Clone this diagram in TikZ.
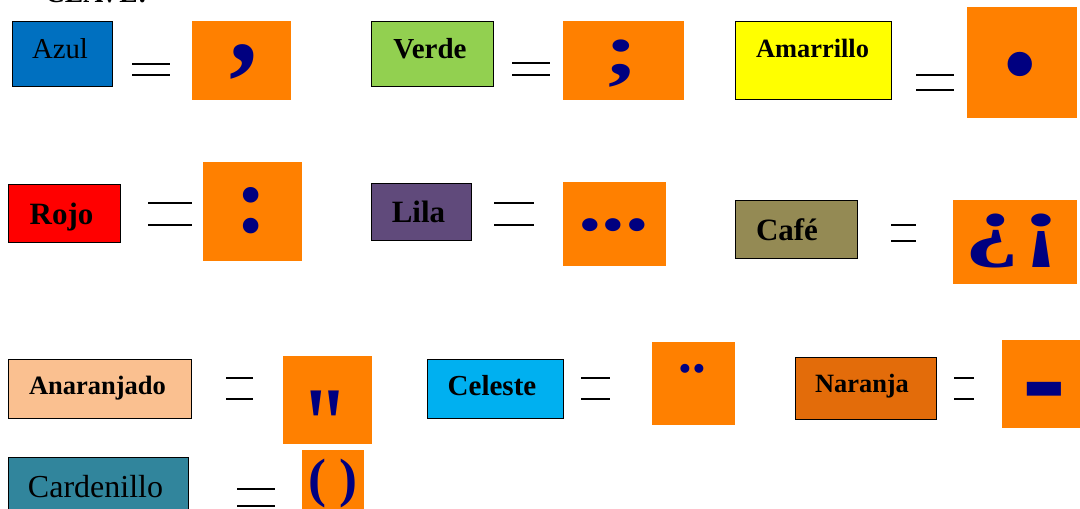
\documentclass[tikz,border=0pt]{standalone}
\usepackage{graphicx}
\usepackage{fontspec}
\setmainfont{Liberation Serif}
\newfontfamily\markfont{Liberation Serif}
\definecolor{cAzul}{HTML}{0070C0}
\definecolor{cVerde}{HTML}{92D050}
\definecolor{cAmar}{HTML}{FFFF00}
\definecolor{cRojo}{HTML}{FF0000}
\definecolor{cLila}{HTML}{604A7B}
\definecolor{cCafe}{HTML}{948A54}
\definecolor{cAnar}{HTML}{FAC090}
\definecolor{cCele}{HTML}{00B0F0}
\definecolor{cNara}{HTML}{E36C0A}
\definecolor{cCard}{HTML}{31859C}
\definecolor{cOrange}{HTML}{FF8000}
\definecolor{cNavy}{HTML}{000080}
\tikzset{
  colorbox/.style={draw=black,line width=0.9pt},
  signbox/.style={fill=cOrange},
  eqline/.style={draw=black,line width=1.6pt},
  label/.style={anchor=base,inner sep=0pt,text=black},
  glyphmark/.style={anchor=center,inner sep=0pt,text=cNavy}
}
\newcommand{\fs}[1]{\fontsize{#1}{#1}\selectfont}
\newcommand{\sign}[4]{\fill[signbox] (#1,#2) rectangle (#3,#4);}
\newcommand{\eq}[4]{\draw[eqline] (#1,#3) -- (#2,#3); \draw[eqline] (#1,#4) -- (#2,#4);}
% name, x, y, x-stretch, y-stretch, size, character
\newcommand{\mk}[7]{\node[glyphmark] (#1) at (#2,#3) {\scalebox{#4}[#5]{\fs{#6}\markfont\bfseries #7}};}
\begin{document}
\begin{tikzpicture}[x=1pt,y=-1pt]
\path[use as bounding box] (0,0) rectangle (1080,509);
\clip (0,0) rectangle (1080,509);
\node[label] (clave) at (96,2.5) {\fs{27.5}\bfseries CLAVE:};
% colour boxes
\fill[cAzul] (12,21) rectangle (112,86); \draw[colorbox] (12,21) rectangle (112,86);
\node[label] (azul) at (60,58) {\fs{28.8}Azul};
\fill[cVerde] (371,21) rectangle (493,86); \draw[colorbox] (371,21) rectangle (493,86);
\node[label] (verde) at (430,58) {\fs{29}\bfseries Verde};
\fill[cAmar] (735,21) rectangle (891,99); \draw[colorbox] (735,21) rectangle (891,99);
\node[label] (amar) at (812.5,57) {\fs{26.4}\bfseries Amarrillo};
\fill[cRojo] (8,184) rectangle (120,242); \draw[colorbox] (8,184) rectangle (120,242);
\node[label] (rojo) at (61.5,224) {\fs{31}\bfseries Rojo};
\fill[cLila] (371,183) rectangle (471,240); \draw[colorbox] (371,183) rectangle (471,240);
\node[label] (lila) at (418.5,222) {\fs{31}\bfseries Lila};
\fill[cCafe] (735,200) rectangle (857,258); \draw[colorbox] (735,200) rectangle (857,258);
\node[label] (cafe) at (787,240) {\fs{31}\bfseries Café};
\fill[cAnar] (8,359) rectangle (191,418); \draw[colorbox] (8,359) rectangle (191,418);
\node[label] (anar) at (97.5,394) {\fs{26.5}\bfseries Anaranjado};
\fill[cCele] (427,359) rectangle (563,418); \draw[colorbox] (427,359) rectangle (563,418);
\node[label] (cele) at (492,395) {\fs{29}\bfseries Celeste};
\fill[cNara] (795,357) rectangle (936,419); \draw[colorbox] (795,357) rectangle (936,419);
\node[label] (nara) at (862,392) {\fs{26.4}\bfseries Naranja};
\fill[cCard] (8,457) rectangle (188,515); \draw[colorbox] (8,457) rectangle (188,515);
\node[label] (card) at (95.5,497) {\fs{32}Cardenillo};
% equals signs
\eq{132}{170}{64}{75}
\eq{512}{550}{63}{75}
\eq{916}{954}{75}{90}
\eq{148}{192}{203}{225}
\eq{494}{534}{203}{225}
\eq{891}{916}{225}{241}
\eq{226}{253}{378}{399}
\eq{581}{610}{378}{399}
\eq{954}{974}{378}{399}
\begin{scope}[eqline/.append style={line width=2.4pt}]
\eq{237}{275}{489}{506}
\end{scope}
% orange cards
\sign{192}{21}{291}{100}
\sign{563}{21}{684}{100}
\sign{967}{7}{1077}{118}
\sign{203}{162}{302}{261}
\sign{563}{182}{666}{266}
\sign{953}{200}{1077}{284}
\sign{283}{356}{372}{444}
\sign{652}{342}{735}{425}
\sign{1002}{340}{1080}{428}
\sign{302}{450}{364}{509}
% punctuation marks
\mk{m1}{244}{62}{1}{1}{115}{,}
\mk{m2}{622}{64}{1.35}{1}{76}{;}
\mk{m3}{1020}{64}{1}{1}{150}{.}
\mk{m4}{251}{211}{1}{1}{96}{:}
\mk{m5}{613.5}{225}{1.18}{1}{80}{...}
\mk{m6}{992.5}{241}{1.38}{1}{80}{¿}
\mk{m6b}{1041}{241}{1.5}{1}{80}{¡}
\mk{m7}{325.5}{426}{1}{1.25}{85}{"}
\mk{m8}{692.5}{368.5}{1}{1}{55}{..}
\mk{m9}{1044}{405}{1.05}{1.3}{125}{-}
\mk{m10}{333}{484}{1}{1}{54}{( )}
\end{tikzpicture}
\end{document}
